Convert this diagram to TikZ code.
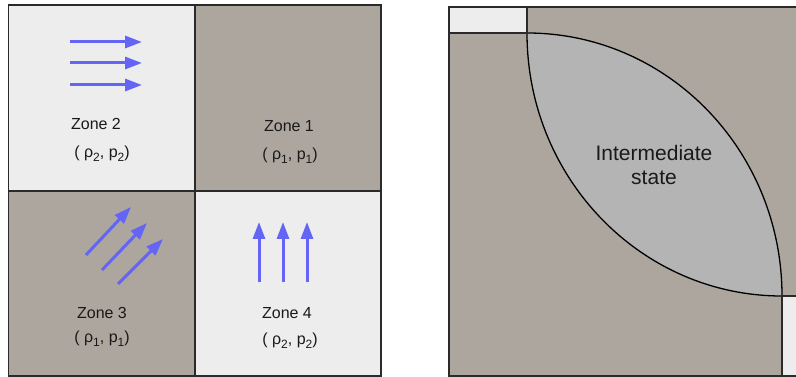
\documentclass[tikz,border=0pt]{standalone}
\usepackage{fontspec}
\setmainfont{Liberation Sans}
\usetikzlibrary{arrows.meta}
\definecolor{zlight}{HTML}{EDEDED}
\definecolor{zdark}{HTML}{ADA69F}
\definecolor{zlens}{HTML}{B4B4B4}
\definecolor{zarrow}{HTML}{6464F5}
\definecolor{zline}{HTML}{2A2A2A}
\newcommand{\zsb}[1]{\raisebox{-0.45ex}{\fontsize{12}{12}\selectfont #1}}
\tikzset{
  frame/.style={draw=zline, line width=1.6pt},
  flow/.style={draw=zarrow, line width=3pt, -{Triangle[length=17pt,width=12pt]}},
  ztext/.style={font=\fontsize{16}{18}\selectfont, text=black!90, inner sep=0pt},
  itext/.style={font=\fontsize{21}{25}\selectfont, text=black!90, align=center, inner sep=0pt}
}
\begin{document}
\begin{tikzpicture}[x=1pt,y=-1pt]
\useasboundingbox (0,0) rectangle (796,377);
% ---- left panel ----
\fill[zlight] (8.5,5) rectangle (195,191);
\fill[zdark] (195,5) rectangle (381,191);
\fill[zdark] (8.5,191) rectangle (195,376);
\fill[zlight] (195,191) rectangle (381,376);
\draw[frame] (8.5,5) rectangle (381,376);
\draw[frame] (195,5) -- (195,376);
\draw[frame] (8.5,191) -- (381,191);
% arrows zone 2
\coordinate (a1s) at (70,42);  \coordinate (a1e) at (142,42);
\coordinate (a2s) at (70,63);  \coordinate (a2e) at (142,63);
\coordinate (a3s) at (70,85);  \coordinate (a3e) at (142,85);
\draw[flow] (a1s) -- (a1e);
\draw[flow] (a2s) -- (a2e);
\draw[flow] (a3s) -- (a3e);
% arrows zone 3
\coordinate (b1s) at (86,255);  \coordinate (b1e) at (131,207);
\coordinate (b2s) at (102,270); \coordinate (b2e) at (147,223);
\coordinate (b3s) at (118,284); \coordinate (b3e) at (163,239);
\draw[flow] (b1s) -- (b1e);
\draw[flow] (b2s) -- (b2e);
\draw[flow] (b3s) -- (b3e);
% arrows zone 4
\coordinate (c1s) at (259,282); \coordinate (c1e) at (259,222);
\coordinate (c2s) at (283,282); \coordinate (c2e) at (283,222);
\coordinate (c3s) at (307,282); \coordinate (c3e) at (307,222);
\draw[flow] (c1s) -- (c1e);
\draw[flow] (c2s) -- (c2e);
\draw[flow] (c3s) -- (c3e);
% labels
\node[ztext] (z2) at (96,124) {Zone 2};
\node[ztext] (z2s) at (102,154) {( ρ\zsb{2}, p\zsb{2})};
\node[ztext] (z1) at (289,126) {Zone 1};
\node[ztext] (z1s) at (290,156) {( ρ\zsb{1}, p\zsb{1})};
\node[ztext] (z3) at (102,313) {Zone 3};
\node[ztext] (z3s) at (102,339) {( ρ\zsb{1}, p\zsb{1})};
\node[ztext] (z4) at (287,313) {Zone 4};
\node[ztext] (z4s) at (290,341) {( ρ\zsb{2}, p\zsb{2})};
% ---- right panel ----
\fill[zdark] (449,7) rectangle (796,376);
\fill[zlight] (449,7) rectangle (527,33);
\fill[zlight] (782,296) rectangle (796,376);
\coordinate (p) at (527,33);
\coordinate (q) at (782,296);
\fill[zlens] (p) .. controls (667.8,33) and (782,150.7) .. (q)
   .. controls (641.2,296) and (527,178.3) .. (p) -- cycle;
\draw[line width=1.3pt, draw=black] (p) .. controls (667.8,33) and (782,150.7) .. (q);
\draw[line width=1.3pt, draw=black] (p) .. controls (527,178.3) and (641.2,296) .. (q);
\draw[frame] (796,7) -- (449,7) -- (449,376) -- (796,376);
\draw[frame] (449,33) -- (p) -- (527,7);
\draw[frame] (796,296) -- (q) -- (782,376);
\node[itext] (inter) at (654,165) {Intermediate\\[-1pt]state};
\end{tikzpicture}
\end{document}
